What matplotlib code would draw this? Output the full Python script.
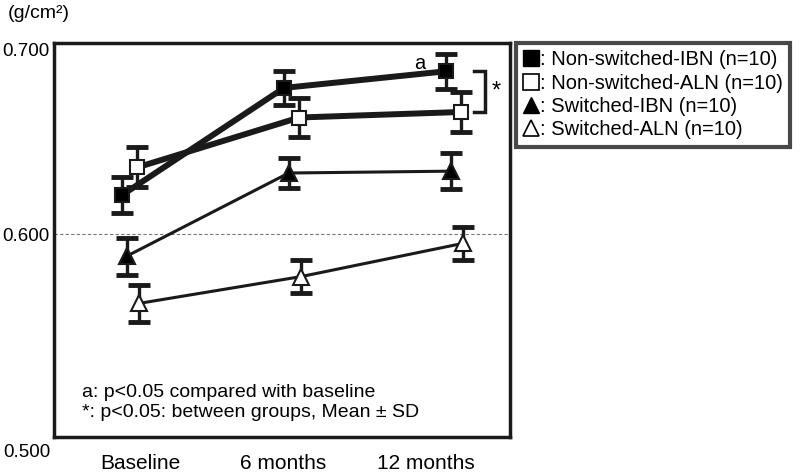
import numpy as np
import matplotlib
matplotlib.use("Agg")
import matplotlib.pyplot as plt
from matplotlib.lines import Line2D

plt.rcParams['font.family'] = ['Liberation Sans', 'DejaVu Sans']

# data (BMD, g/cm2)
timepoints = ["Baseline", "6 months", "12 months"]
ns_ibn = [0.621, 0.679, 0.688]
ns_ibn_sd = [0.0097, 0.009, 0.0095]
ns_aln = [0.636, 0.663, 0.666]
ns_aln_sd = [0.0108, 0.0103, 0.0108]
sw_ibn = [0.588, 0.633, 0.634]
sw_ibn_sd = [0.010, 0.008, 0.0097]
sw_aln = [0.5625, 0.577, 0.595]
sw_aln_sd = [0.010, 0.009, 0.009]

labels = [": Non-switched-IBN (n=10)", ": Non-switched-ALN (n=10)",
          ": Switched-IBN (n=10)", ": Switched-ALN (n=10)"]

x = np.arange(len(timepoints))

fig = plt.figure(figsize=(8, 4.74), dpi=100)
ax = fig.add_axes([0.0675, 0.078, 0.57, 0.831])

ax.axhline(0.6, color='#777777', lw=0.8, ls=(0, (3, 2)), zorder=1)

series = [
    (ns_ibn, ns_ibn_sd, -0.047, 's', 'black', 4.3, 10),
    (ns_aln, ns_aln_sd, 0.047, 's', 'white', 4.3, 10),
    (sw_ibn, sw_ibn_sd, -0.018, '^', 'black', 2.2, 11),
    (sw_aln, sw_aln_sd, 0.057, '^', 'white', 2.2, 11),
]
for vals, sd, off, mk, fc, lw, ms in series:
    ax.plot(x + off, vals, color='#1a1a1a', lw=lw, zorder=2)
    ax.errorbar(x + off, vals, yerr=sd, fmt='none', ecolor='#1a1a1a',
                elinewidth=2.4, capsize=8, capthick=3.5, zorder=3)
    ax.plot(x + off, vals, ls='none', marker=mk, ms=ms, mfc=fc,
            mec='#1a1a1a', mew=1.5, zorder=4)

# significance marks
ax.text(2 - 0.21, ns_ibn[2] + 0.004, "a", fontsize=14.5, ha='center', va='center')
bx0, bx1 = 2.125, 2.192
ax.plot([bx0, bx1, bx1, bx0], [ns_ibn[2], ns_ibn[2], ns_aln[2], ns_aln[2]],
        color='#1a1a1a', lw=2.5, solid_joinstyle='miter')
ax.text(2.26, (ns_ibn[2] + ns_aln[2]) / 2, "*", fontsize=17, ha='center', va='center')

ax.text(0.061, 0.114, "a: p<0.05 compared with baseline", transform=ax.transAxes,
        fontsize=14, va='center')
ax.text(0.061, 0.063, "*: p<0.05: between groups, Mean \u00b1 SD", transform=ax.transAxes,
        fontsize=14, va='center')

ax.set_xlim(-0.465, 2.346)
ax.set_ylim(0.4903, 0.7032)
ax.set_xticks([0.065, 0.945, 1.83])
ax.set_xticklabels(timepoints, fontsize=15)
ax.set_yticks([0.6, 0.7])
ax.set_yticklabels(["0.600", "0.700"], fontsize=13.5)
ax.tick_params(length=0, pad=3)
ax.tick_params(axis='x', pad=12)
ax.text(-0.008, -0.04, "0.500", transform=ax.transAxes, fontsize=13.5,
        ha='right', va='center')
for s in ax.spines.values():
    s.set_linewidth(2.5)
    s.set_color('#1a1a1a')

fig.text(0.01, 0.972, "(g/cm\u00b2)", fontsize=14, va='center')

handles = [Line2D([], [], ls='none', marker='s', ms=11, mfc='black', mec='black'),
           Line2D([], [], ls='none', marker='s', ms=11, mfc='white', mec='black', mew=1.2),
           Line2D([], [], ls='none', marker='^', ms=12, mfc='black', mec='black'),
           Line2D([], [], ls='none', marker='^', ms=12, mfc='white', mec='black', mew=1.2)]
leg = fig.legend(handles, labels, loc='upper left', bbox_to_anchor=(0.645, 0.909),
                 fontsize=14.5, frameon=True, fancybox=False, edgecolor='#1a1a1a',
                 handlelength=0.8, handletextpad=0.05, labelspacing=0.22,
                 borderpad=0.35, borderaxespad=0)
leg.get_frame().set_linewidth(3)

fig.savefig("out.png", dpi=100)
